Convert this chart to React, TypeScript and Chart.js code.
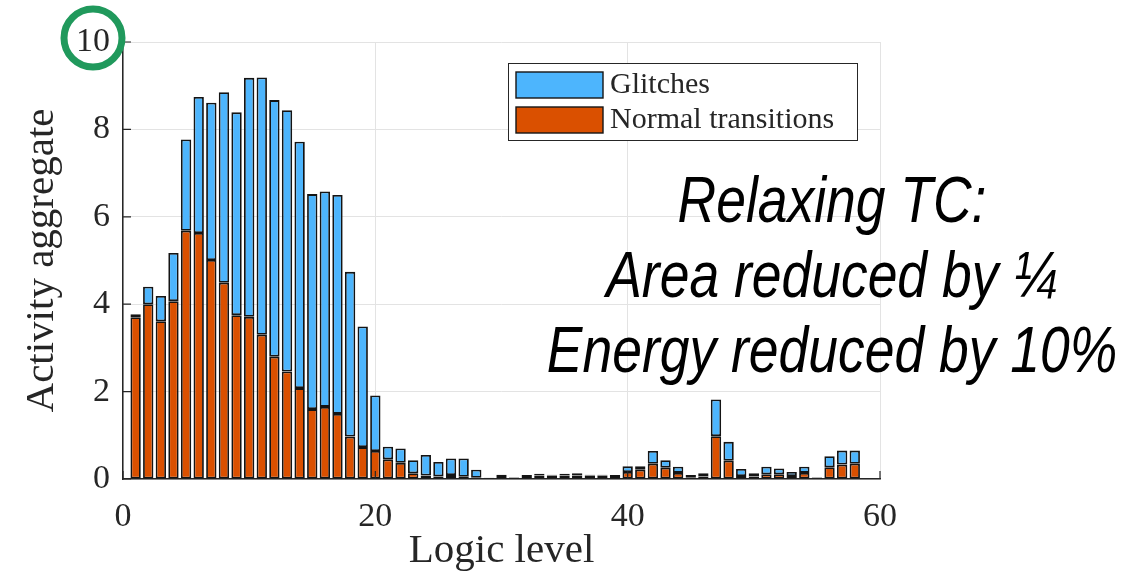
import { useEffect, useRef } from 'react';
import { Chart, registerables } from 'chart.js';

Chart.register(...registerables);

// Logic levels on the x axis
const LEVELS = [
  1, 2, 3, 4, 5, 6, 7, 8, 9, 10, 11, 12, 13, 14, 15, 16, 17, 18, 19, 20,
  21, 22, 23, 24, 25, 26, 27, 28, 29, 30, 31, 32, 33, 34, 35, 36, 37, 38, 39, 40,
  41, 42, 43, 44, 45, 46, 47, 48, 49, 50, 51, 52, 53, 54, 55, 56, 57, 58,
];

// Normal (functional) transitions per level
const NORMAL = [
  3.70, 4.00, 3.61, 4.07, 5.68, 5.63, 5.01, 4.49, 3.75, 3.71,
  3.30, 2.80, 2.46, 2.08, 1.60, 1.65, 1.49, 0.97, 0.73, 0.64,
  0.45, 0.37, 0.13, 0.08, 0.06, 0.09, 0.05, 0.03, 0.02, 0.07,
  0.03, 0.07, 0.08, 0.08, 0.08, 0.08, 0.08, 0.08, 0.07, 0.16,
  0.21, 0.35, 0.26, 0.14, 0.04, 0.06, 0.98, 0.42, 0.07, 0.06,
  0.11, 0.11, 0.07, 0.14, 0.03, 0.27, 0.33, 0.35,
];

// Glitch transitions per level (stacked on top of the normal ones)
const GLITCHES = [
  0.07, 0.40, 0.58, 1.10, 2.09, 3.11, 3.60, 4.36, 4.64, 5.47,
  5.89, 5.87, 5.98, 5.64, 4.92, 4.93, 5.01, 3.77, 2.76, 1.27,
  0.29, 0.33, 0.30, 0.47, 0.33, 0.38, 0.42, 0.18, 0.01, 0.03,
  0.01, 0.02, 0.04, 0.02, 0.04, 0.05, 0.02, 0.02, 0.02, 0.13,
  0.08, 0.29, 0.17, 0.14, 0.05, 0.07, 0.84, 0.43, 0.16, 0.07,
  0.17, 0.13, 0.09, 0.14, 0.01, 0.25, 0.32, 0.30,
];

const X_TICKS = [0, 20, 40, 60];
const Y_TICKS = [0, 2, 4, 6, 8, 10];

const SERIES_NAMES = ['Glitches', 'Normal transitions'];
const X_TITLE = 'Logic level';
const Y_TITLE = 'Activity aggregate';
const NOTE_LINES = ['Relaxing TC:', 'Area reduced by \u00BC', 'Energy reduced by 10%'];
const MARKED_TICK = 10;

const GLITCH_COLOR = '#4db5fd';
const NORMAL_COLOR = '#da5000';
const EDGE_COLOR = '#141414';
const AXIS_COLOR = '#262626';
const GRID_COLOR = '#e3e3e3';
const MARK_COLOR = '#20995c';
const SERIF = '"Liberation Serif", "DejaVu Serif", serif';

const overlayPlugin = {
  id: 'overlay',
  afterDraw(chart: any) {
    const { ctx, chartArea, scales } = chart;
    const xs = scales.x;
    const ys = scales.y;
    ctx.save();

    // inward tick marks
    ctx.strokeStyle = AXIS_COLOR;
    ctx.lineWidth = 1.2;
    ctx.beginPath();
    Y_TICKS.forEach((v) => {
      const py = ys.getPixelForValue(v);
      ctx.moveTo(chartArea.left, py);
      ctx.lineTo(chartArea.left + 8, py);
    });
    X_TICKS.forEach((v) => {
      const px = xs.getPixelForValue(v);
      ctx.moveTo(px, chartArea.bottom);
      ctx.lineTo(px, chartArea.bottom - 8);
    });
    ctx.stroke();

    // legend box (glitches listed first)
    const lx = 508;
    const ly = 63;
    const lw = 349;
    const lh = 77;
    ctx.fillStyle = '#ffffff';
    ctx.fillRect(lx, ly, lw, lh);
    ctx.strokeStyle = AXIS_COLOR;
    ctx.lineWidth = 1;
    ctx.strokeRect(lx + 0.5, ly + 0.5, lw, lh);
    const swatches = [GLITCH_COLOR, NORMAL_COLOR];
    ctx.font = `30px ${SERIF}`;
    ctx.textBaseline = 'alphabetic';
    ctx.textAlign = 'left';
    SERIES_NAMES.forEach((name, i) => {
      const sy = ly + 9 + i * 35;
      ctx.fillStyle = swatches[i];
      ctx.fillRect(lx + 8, sy, 87, 26);
      ctx.strokeStyle = EDGE_COLOR;
      ctx.lineWidth = 1.4;
      ctx.strokeRect(lx + 8, sy, 87, 26);
      ctx.fillStyle = AXIS_COLOR;
      ctx.fillText(name, lx + 102, sy + 21);
    });

    // annotation text, horizontally condensed
    ctx.fillStyle = '#000000';
    ctx.textAlign = 'center';
    ctx.textBaseline = 'alphabetic';
    ctx.font = 'italic 64px "Liberation Sans", Arial, sans-serif';
    const baselines = [222, 297, 372];
    NOTE_LINES.forEach((line, i) => {
      ctx.save();
      ctx.translate(832, baselines[i]);
      ctx.scale(0.835, 1);
      ctx.fillText(line, 0, 0);
      ctx.restore();
    });

    // circle around the top y tick label
    const cy = ys.getPixelForValue(MARKED_TICK) - 4;
    const cx = chartArea.left - 30;
    ctx.strokeStyle = MARK_COLOR;
    ctx.lineWidth = 7;
    ctx.beginPath();
    ctx.arc(cx, cy, 29, 0, Math.PI * 2);
    ctx.stroke();

    ctx.restore();
  },
};

export default function App() {
  const canvasRef = useRef<HTMLCanvasElement | null>(null);

  useEffect(() => {
    const canvas = canvasRef.current;
    if (!canvas) return;
    const chart = new Chart(canvas, {
      type: 'bar',
      data: {
        datasets: [
          {
            label: SERIES_NAMES[1],
            data: LEVELS.map((x, i) => ({ x, y: NORMAL[i] })),
            backgroundColor: NORMAL_COLOR,
            borderColor: EDGE_COLOR,
            borderWidth: 1.8,
            borderSkipped: false,
          },
          {
            label: SERIES_NAMES[0],
            data: LEVELS.map((x, i) => ({ x, y: GLITCHES[i] })),
            backgroundColor: GLITCH_COLOR,
            borderColor: EDGE_COLOR,
            borderWidth: 1.8,
            borderSkipped: false,
          },
        ],
      },
      options: {
        animation: false,
        responsive: false,
        devicePixelRatio: 1,
        layout: { padding: { top: 42, right: 252, bottom: 0, left: 0 } },
        datasets: {
          bar: { barPercentage: 0.82, categoryPercentage: 1 },
        },
        plugins: {
          legend: { display: false },
          tooltip: { enabled: false },
        },
        scales: {
          x: {
            type: 'linear',
            stacked: true,
            offset: false,
            min: 0,
            max: 60,
            afterBuildTicks: (scale: any) => {
              scale.ticks = X_TICKS.map((value) => ({ value }));
            },
            afterFit: (scale: any) => {
              scale.height = 98;
            },
            grid: { color: GRID_COLOR, lineWidth: 1, drawTicks: false, offset: false },
            border: { display: true, color: AXIS_COLOR, width: 1.5 },
            ticks: {
              color: AXIS_COLOR,
              padding: 18,
              font: { family: SERIF, size: 34 },
              maxRotation: 0,
            },
            title: {
              display: true,
              text: X_TITLE,
              color: AXIS_COLOR,
              font: { family: SERIF, size: 41 },
              padding: { top: 0, bottom: 1 },
            },
          },
          y: {
            stacked: true,
            min: 0,
            max: 10,
            afterBuildTicks: (scale: any) => {
              scale.ticks = Y_TICKS.map((value) => ({ value }));
            },
            afterFit: (scale: any) => {
              scale.width = 123;
            },
            grid: { color: GRID_COLOR, lineWidth: 1, drawTicks: false },
            border: { display: true, color: AXIS_COLOR, width: 1.5 },
            ticks: {
              color: AXIS_COLOR,
              padding: 13,
              font: { family: SERIF, size: 34 },
            },
            title: {
              display: true,
              text: Y_TITLE,
              color: AXIS_COLOR,
              font: { family: SERIF, size: 41 },
              padding: { top: 18, bottom: 0 },
            },
          },
        },
      },
      plugins: [overlayPlugin],
    });
    return () => chart.destroy();
  }, []);

  return (
    <div style={{ position: 'fixed', left: 0, top: 0, width: 1132, height: 577, background: '#ffffff' }}>
      <canvas ref={canvasRef} width={1132} height={577} style={{ display: 'block' }} />
    </div>
  );
}
